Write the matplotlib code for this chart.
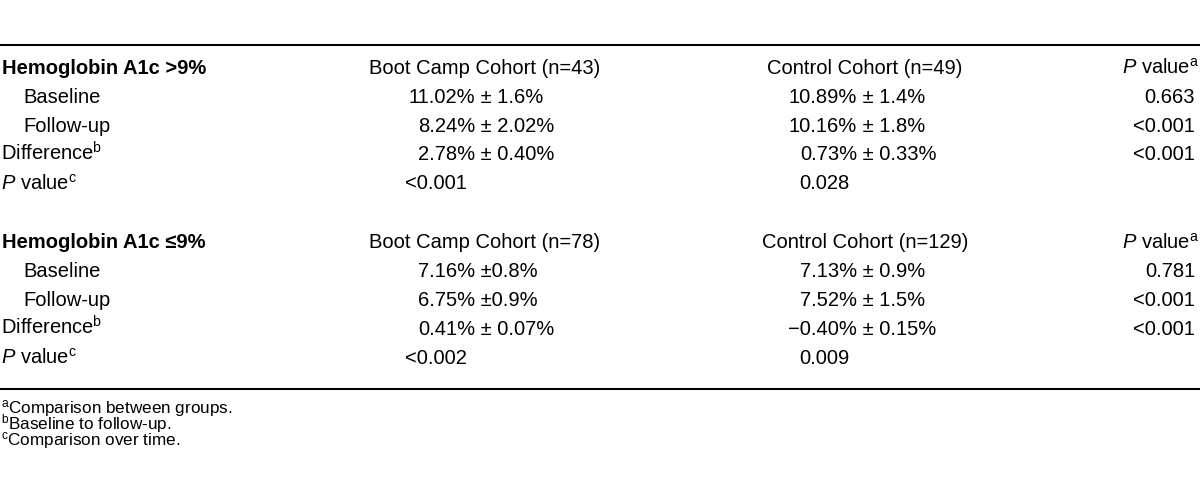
import matplotlib
matplotlib.use("Agg")
import matplotlib.pyplot as plt

# table content
group_titles = ["Hemoglobin A1c >9%", "Hemoglobin A1c \u22649%"]
boot_n = [43, 78]
control_n = [49, 129]
row_labels = ["Baseline", "Follow-up", r"Difference$^{\mathrm{b}}$", r"$\mathit{P}$ value$^{\mathrm{c}}$"]
boot_vals = [["11.02% \u00b1 1.6%", "8.24% \u00b1 2.02%", "2.78% \u00b1 0.40%", "<0.001"],
             ["7.16% \u00b10.8%", "6.75% \u00b10.9%", "0.41% \u00b1 0.07%", "<0.002"]]
control_vals = [["10.89% \u00b1 1.4%", "10.16% \u00b1 1.8%", "0.73% \u00b1 0.33%", "0.028"],
                ["7.13% \u00b1 0.9%", "7.52% \u00b1 1.5%", "\u22120.40% \u00b1 0.15%", "0.009"]]
between_p = [["0.663", "<0.001", "<0.001"],
             ["0.781", "<0.001", "<0.001"]]
footnotes = [r"$^{\mathrm{a}}$Comparison between groups.",
             r"$^{\mathrm{b}}$Baseline to follow-up.",
             r"$^{\mathrm{c}}$Comparison over time."]

plt.rcParams['font.family'] = ['Liberation Sans', 'DejaVu Sans']
plt.rcParams['mathtext.fontset'] = 'custom'
plt.rcParams['mathtext.rm'] = 'Liberation Sans'
plt.rcParams['mathtext.it'] = 'Liberation Sans:italic'
plt.rcParams['mathtext.bf'] = 'Liberation Sans:bold'

fig = plt.figure(figsize=(12, 4.84), dpi=100)
ax = fig.add_axes([0, 0, 1, 1])
ax.set_xlim(0, 1200)
ax.set_ylim(484, 0)
ax.axis('off')

fs = 14.5
boot_center, control_center = 485, 865
boot_anchor, control_anchor = 475, 857   # where the first "%" ends
p_right = 1195
block_top = [74, 248.5]
step = 28.8

ax.axhline(44.5, color='black', lw=1.5)
ax.axhline(388.5, color='black', lw=1.5)


def value_cell(x_anchor, y, s):
    if '%' in s:
        left, rest = s.split('%', 1)
        ax.text(x_anchor, y, left + '%', ha='right', va='baseline', fontsize=fs)
        ax.text(x_anchor, y, rest, ha='left', va='baseline', fontsize=fs)
    else:
        ax.text(x_anchor - 8, y, s, ha='right', va='baseline', fontsize=fs)


for g in range(2):
    y0 = block_top[g]
    ax.text(2, y0, group_titles[g], ha='left', va='baseline', fontsize=fs, fontweight='bold')
    ax.text(boot_center, y0, f"Boot Camp Cohort (n={boot_n[g]})", ha='center', va='baseline', fontsize=fs)
    ax.text(control_center, y0, f"Control Cohort (n={control_n[g]})", ha='center', va='baseline', fontsize=fs)
    ax.text(1199, y0, r"$\mathit{P}$ value$^{\mathrm{a}}$", ha='right', va='baseline', fontsize=fs)
    for i, lab in enumerate(row_labels):
        y = y0 + (i + 1) * step
        x = 23 if i < 2 else 1
        ax.text(x, y, lab, ha='left', va='baseline', fontsize=fs)
        value_cell(boot_anchor, y, boot_vals[g][i])
        value_cell(control_anchor, y, control_vals[g][i])
        if i < 3:
            ax.text(p_right, y, between_p[g][i], ha='right', va='baseline', fontsize=fs)

# footnotes as one block so the tight line spacing does not clash
ax.text(1, 398, "\n".join(footnotes), ha='left', va='top', fontsize=12.3, linespacing=0.62)

fig.savefig("out.png", dpi=100)
